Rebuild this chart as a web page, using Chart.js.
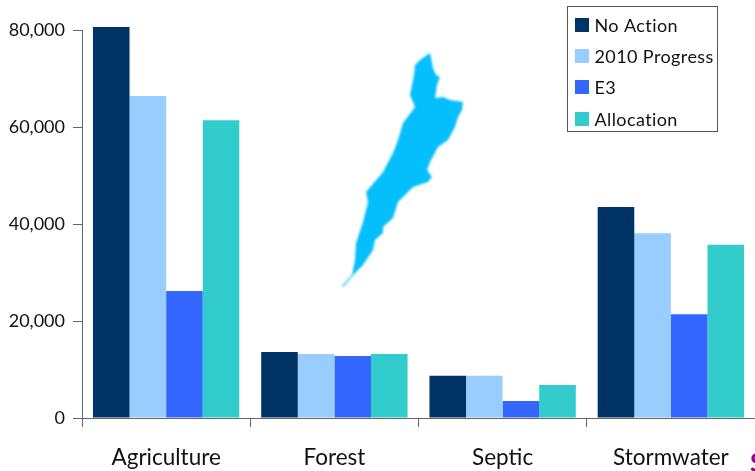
<!DOCTYPE html>
<html>
<head>
<meta charset="utf-8">
<script src="https://cdn.jsdelivr.net/npm/chart.js@4/dist/chart.umd.min.js"></script>
<style>
html,body{margin:0;padding:0;background:#fff;overflow:hidden}
#wrap{position:relative;width:755px;height:471px}
</style>
</head>
<body>
<div id="wrap"><canvas id="c" width="755" height="471"></canvas></div>
<script>
const categories = ['Agriculture', 'Forest', 'Septic', 'Stormwater'];
const noAction = [80600, 13600, 8700, 43500];
const progress2010 = [66400, 13200, 8700, 38100];
const e3 = [26200, 12800, 3500, 21400];
const allocation = [61400, 13200, 6800, 35700];
const yTicks = [0, 20000, 40000, 60000, 80000];

const FONT = 'Lato, Carlito, sans-serif';
const AXIS = '#666666';

// Outline of the lake inset, in canvas pixels
const lakeOutline = [
  [430,53],[433,68],[436,75],[440,77],[437,85],[435,98],[443,97],[450,100],[463,102],
  [462,110],[458,117],[455,127],[448,140],[438,147],[430,162],[427,170],[432,177],[428,182],
  [413,187],[398,202],[393,218],[383,227],[383,233],[375,240],[373,250],[363,265],[355,273],
  [343,287],[342,286],[352,275],[355,260],[356,243],[363,222],[368,202],[366,192],[383,172],
  [393,153],[398,140],[403,123],[415,107],[410,95],[414,75],[415,65],[420,60]
];

const lakePlugin = {
  id: 'lake',
  afterDatasetsDraw(chart) {
    const ctx = chart.ctx;
    ctx.save();
    ctx.filter = 'blur(0.9px)';
    ctx.fillStyle = '#05BEFC';
    ctx.beginPath();
    lakeOutline.forEach(([x, y], i) => i ? ctx.lineTo(x, y) : ctx.moveTo(x, y));
    ctx.closePath();
    ctx.fill();
    ctx.restore();
  }
};

// Boxed legend that sits over the plot's top-right corner
const boxLegendPlugin = {
  id: 'boxLegend',
  afterDraw(chart) {
    const ctx = chart.ctx;
    ctx.save();
    ctx.fillStyle = '#fff';
    ctx.fillRect(568, 6, 150, 125);
    ctx.strokeStyle = '#555';
    ctx.lineWidth = 1;
    ctx.strokeRect(567.5, 6.5, 150, 125);
    ctx.font = '18px ' + FONT;
    ctx.letterSpacing = '0.4px';
    ctx.textBaseline = 'middle';
    chart.data.datasets.forEach((ds, i) => {
      const y = Math.round(25 + i * 31.2);
      ctx.fillStyle = ds.backgroundColor;
      ctx.fillRect(575, y - 7, 14, 14);
      ctx.fillStyle = '#111';
      ctx.fillText(ds.label, 594.5, y + 1);
    });
    ctx.letterSpacing = '0px';
    ctx.font = 'bold 26px ' + FONT;
    ctx.fillStyle = '#990099';
    ctx.fillText('S', 750, 464);
    ctx.restore();
  }
};

new Chart(document.getElementById('c'), {
  type: 'bar',
  data: {
    labels: categories,
    datasets: [
      { label: 'No Action', data: noAction, backgroundColor: '#003366' },
      { label: '2010 Progress', data: progress2010, backgroundColor: '#99CCFF' },
      { label: 'E3', data: e3, backgroundColor: '#3366FF' },
      { label: 'Allocation', data: allocation, backgroundColor: '#33CCCC' }
    ].map(d => Object.assign(d, { barPercentage: 1, categoryPercentage: 0.87, clip: false }))
  },
  options: {
    responsive: false,
    animation: false,
    layout: { padding: { top: 30, right: 0, left: 0, bottom: 0 } },
    plugins: { legend: { display: false }, tooltip: { enabled: false }, title: { display: false } },
    scales: {
      x: {
        afterFit(a) { a.height = 53; },
        border: { color: AXIS, width: 1 },
        grid: { drawOnChartArea: false, color: AXIS, tickLength: 9 },
        ticks: { color: '#111', font: { family: FONT, size: 22.5 }, padding: 17, maxRotation: 0 }
      },
      y: {
        min: 0,
        max: 80000,
        afterBuildTicks(a) { a.ticks = yTicks.map(value => ({ value })); },
        afterFit(a) { a.width = 82; },
        border: { color: AXIS, width: 1 },
        grid: { drawOnChartArea: false, color: AXIS, tickLength: 9 },
        ticks: {
          color: '#111',
          font: { family: FONT, size: 18 },
          padding: 8,
          callback: v => v.toLocaleString('en-US')
        }
      }
    }
  },
  plugins: [lakePlugin, boxLegendPlugin]
});
</script>
</body>
</html>
